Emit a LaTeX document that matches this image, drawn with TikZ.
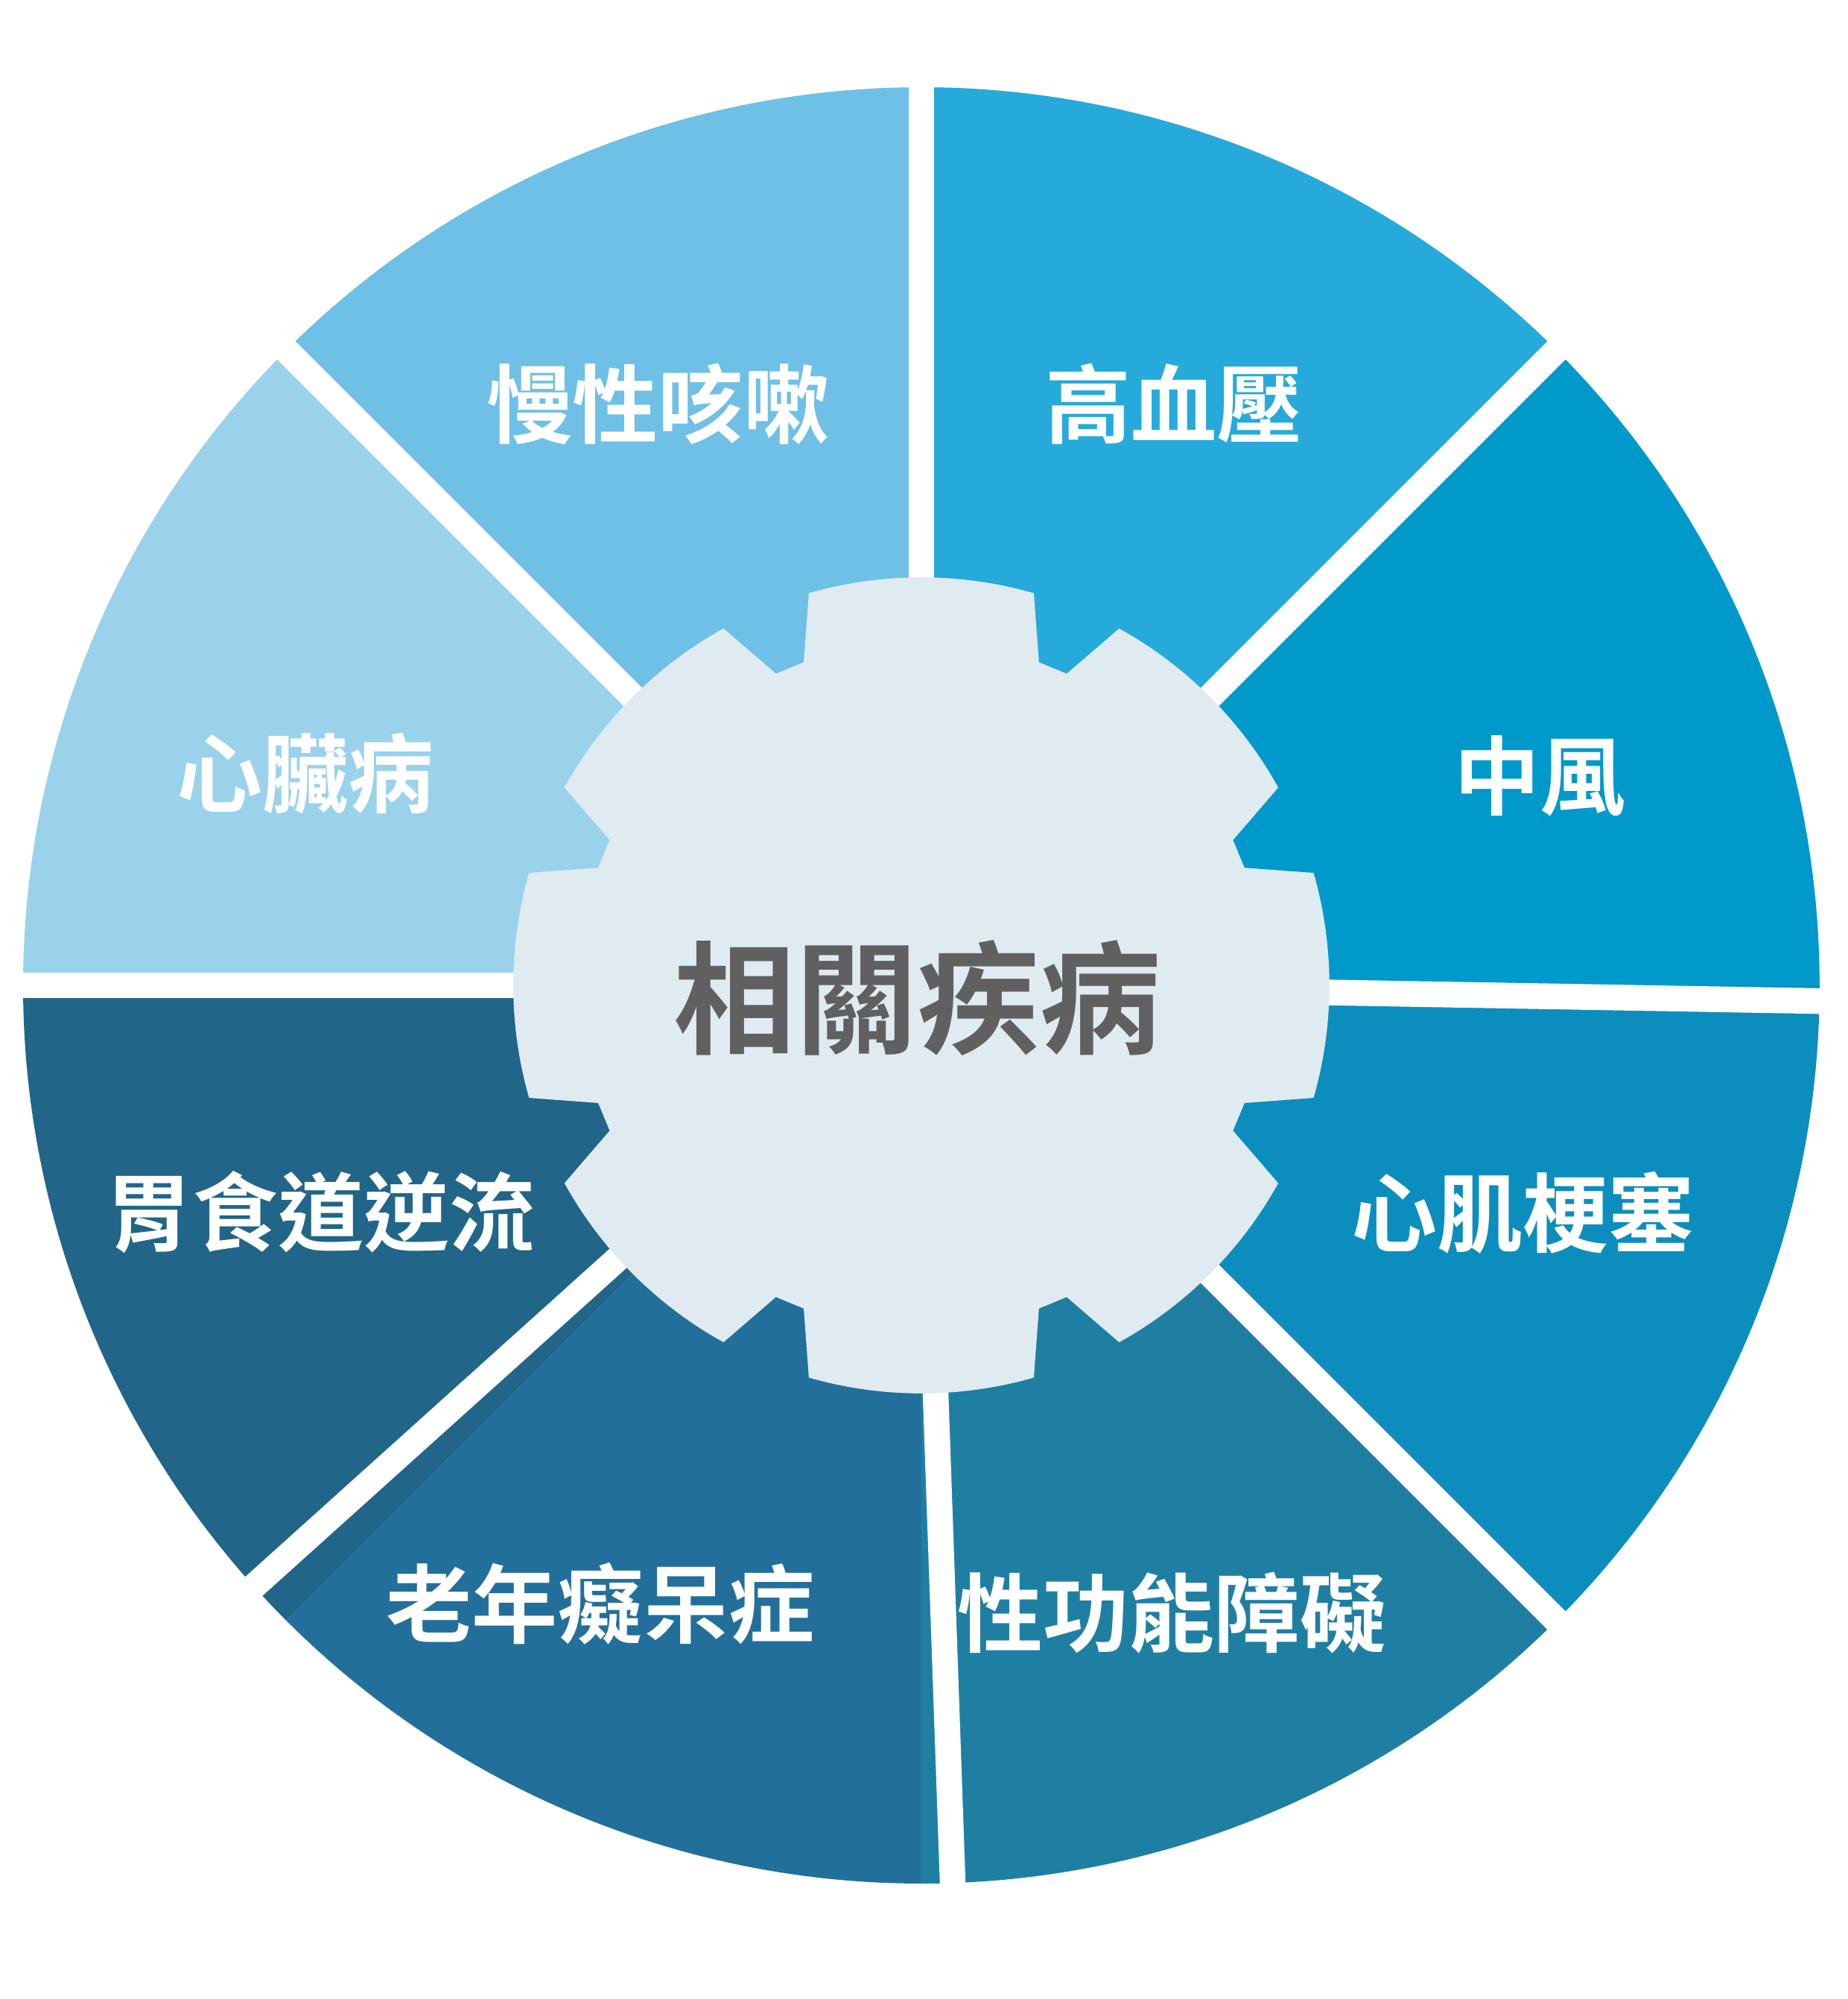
\documentclass[tikz,border=0pt]{standalone}
\usepackage{fontspec}
\newfontfamily\cjk{Noto Sans CJK TC Bold}
\definecolor{cA}{HTML}{25AADB}
\definecolor{cB}{HTML}{0099CC}
\definecolor{cC}{HTML}{0B8EBD}
\definecolor{cD}{HTML}{1F7FA3}
\definecolor{cE}{HTML}{236F9B}
\definecolor{cF}{HTML}{216589}
\definecolor{cG}{HTML}{9AD2EC}
\definecolor{cH}{HTML}{6EC0E6}
\definecolor{gearfill}{HTML}{DFEBF0}
\tikzset{
  label/.style={text=white, font=\cjk\fontsize{19}{19}\selectfont},
  gap/.style={draw=white, line width=0.2cm}
}
\begin{document}
\begin{tikzpicture}[x=0.01cm, y=0.01cm]
\useasboundingbox (-718,-790) rectangle (722,768);

% sectors
\foreach \a/\b/\col in {45/90/cA, 0/45/cB, -45/0/cC, -90/-45/cD, -135/-90/cE, -180/-135/cF, 135/180/cG, 90/135/cH} {
    \fill[\col] (0,0) -- (\a:700) arc[start angle=\a, end angle=\b, radius=700] -- cycle;
}

% white gaps
\foreach \ang in {90, 45, -1, -45, -88, -138, 180, 135} {
    \draw[gap] (0,0) -- (\ang:720);
}

% centre gear
\fill[gearfill] (-16:318) \foreach \c in {0,45,...,315} {
    arc[start angle=\c-16, end angle=\c+16, radius=318] -- (\c+20:268) -- (\c+25:268) -- (\c+29:318)
} -- cycle;

\node (core) at (-3,-10) {\cjk\fontsize{27}{27}\selectfont\color[HTML]{606060}相關疾病};

% labels
\node[label] (cough) at (-205,453) {慢性咳嗽};
\node[label] (bp) at (197,453) {高血壓};
\node[label] (stroke) at (482,163) {中風};
\node[label] (mi) at (469,-177) {心肌梗塞};
\node[label] (ed) at (195,-489) {性功能障礙};
\node[label] (dementia) at (-250,-482) {老年癡呆症};
\node[label] (gerd) at (-468,-177) {胃食道逆流};
\node[label] (heart) at (-480,165) {心臟病};

\end{tikzpicture}
\end{document}
